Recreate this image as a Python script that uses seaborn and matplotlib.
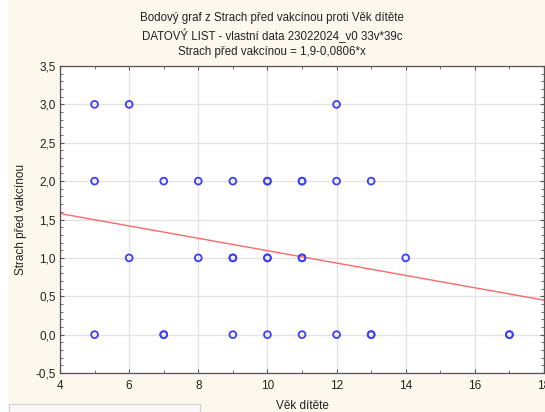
import numpy as np
import pandas as pd
import matplotlib
matplotlib.use("Agg")
import matplotlib.pyplot as plt
from matplotlib.patches import Rectangle
from matplotlib.ticker import MultipleLocator, FuncFormatter
import seaborn as sns

# Data (overlapping markers repeated)
vek = [5, 6, 12,
       5, 7, 8, 9, 10, 10, 11, 11, 12, 13,
       6, 8, 9, 9, 10, 10, 11, 11, 14,
       5, 7, 7, 9, 10, 11, 12, 13, 13, 17, 17]
strach = [3, 3, 3,
          2, 2, 2, 2, 2, 2, 2, 2, 2, 2,
          1, 1, 1, 1, 1, 1, 1, 1, 1,
          0, 0, 0, 0, 0, 0, 0, 0, 0, 0, 0]
intercept = 1.9
slope = -0.0806
x_ticks = [4, 6, 8, 10, 12, 14, 16, 18]
y_ticks = [-0.5, 0.0, 0.5, 1.0, 1.5, 2.0, 2.5, 3.0, 3.5]

df = pd.DataFrame({"Věk dítěte": vek, "Strach před vakcínou": strach})

sns.set_theme(style="white")
plt.rcParams["font.family"] = ["Liberation Sans", "DejaVu Sans"]

bg = "#fcf8ee"
fig = plt.figure(figsize=(5.45, 4.12), dpi=100, facecolor=bg)
ax = fig.add_axes([60 / 545, 1 - 373 / 412, 484 / 545, 307 / 412])
ax.set_facecolor("white")

# white strip at the left and gray box bottom-left
fig.patches.append(Rectangle((0, 0), 8 / 545, 1, transform=fig.transFigure,
                             facecolor="white", edgecolor="none", zorder=-1))
fig.patches.append(Rectangle((9 / 545, -0.01), 191 / 545, 8 / 412 + 0.01,
                             transform=fig.transFigure, facecolor="#fbf7f8",
                             edgecolor="#d0d0d0", linewidth=0.8, zorder=5))

ax.set_xlim(4, 18)
ax.set_ylim(-0.5, 3.5)

ax.grid(True, which="major", color="#e3e3e3", linewidth=0.9)
ax.set_axisbelow(True)

xl = np.array([4, 18])
ax.plot(xl, intercept + slope * xl, color="#ff6868", linewidth=1.0, zorder=2)

sns.scatterplot(data=df, x="Věk dítěte", y="Strach před vakcínou", ax=ax,
                marker="o", s=24, facecolors="none", edgecolors="#3d3dff",
                linewidth=1.3, zorder=3, legend=False)

ax.set_xticks(x_ticks)
ax.set_yticks(y_ticks)
ax.xaxis.set_minor_locator(MultipleLocator(1))
ax.yaxis.set_minor_locator(MultipleLocator(0.1))
ax.yaxis.set_major_formatter(FuncFormatter(lambda v, p: f"{v:.1f}".replace(".", ",")))
ax.xaxis.set_major_formatter(FuncFormatter(lambda v, p: f"{v:.0f}"))
ax.tick_params(which="both", direction="in", top=True, right=True,
               bottom=True, left=True, colors="#555555", labelcolor="#222222",
               labelsize=8.5)
ax.tick_params(which="major", length=3, width=0.8)
ax.tick_params(which="minor", length=2, width=0.6)
ax.tick_params(axis="x", pad=5)
ax.tick_params(axis="y", pad=3)

for s in ax.spines.values():
    s.set_visible(True)
    s.set_color("#555555")
    s.set_linewidth(0.9)

ax.set_xlabel("Věk dítěte", fontsize=8.5, color="#222222", labelpad=5.5)
ax.set_ylabel("Strach před vakcínou", fontsize=8.5, color="#222222", labelpad=6)

title = ("Bodový graf z Strach před vakcínou proti Věk dítěte\n"
         "DATOVÝ LIST - vlastní data 23022024_v0 33v*39c\n"
         "Strach před vakcínou = 1,9-0,0806*x")
fig.text(272 / 545, 1 - 12 / 412, title, ha="center", va="top", fontsize=8.3,
         color="#222222", linespacing=1.38)

fig.savefig("out.png", dpi=100, facecolor=bg)
